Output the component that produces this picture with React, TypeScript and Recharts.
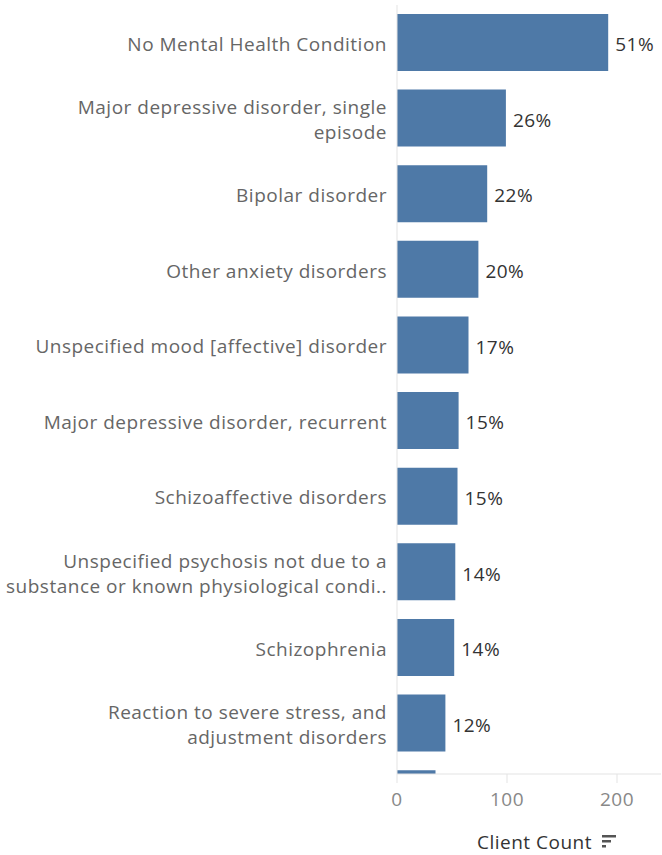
import React from 'react';
import { BarChart, Bar, XAxis, YAxis, LabelList, Label } from 'recharts';

// category labels as shown (Tableau wraps / truncates them)
const categories = [
  'No Mental Health Condition',
  'Major depressive disorder, single\nepisode',
  'Bipolar disorder',
  'Other anxiety disorders',
  'Unspecified mood [affective] disorder',
  'Major depressive disorder, recurrent',
  'Schizoaffective disorders',
  'Unspecified psychosis not due to a\nsubstance or known physiological condi..',
  'Schizophrenia',
  'Reaction to severe stress, and\nadjustment disorders',
  '',
];
const clientCounts = [192, 99, 82, 74, 65, 56, 55, 53, 52, 44, 35];
const pctLabels = ['51%', '26%', '22%', '20%', '17%', '15%', '15%', '14%', '14%', '12%', ''];
const xTicks = [0, 100, 200];
const rowTicks = [0, 1, 2, 3, 4, 5, 6, 7, 8, 9];

const data = clientCounts.map((count, i) => ({
  idx: i,
  name: categories[i],
  count,
  pct: pctLabels[i],
}));

const FONT = '"Open Sans", sans-serif';
const FS = 19;
const LS = 0.5;

function CategoryTick(props: any) {
  const { x, y, payload } = props;
  const lines = (categories[payload.value] ?? '').split('\n');
  const lh = 25;
  const start = -((lines.length - 1) * lh) / 2 + 8;
  return (
    <text x={x} y={y} textAnchor="end" fill="#666" fontSize={FS} letterSpacing={LS} fontFamily={FONT}>
      {lines.map((l, i) => (
        <tspan key={i} x={x} dy={i === 0 ? start : lh}>
          {l}
        </tspan>
      ))}
    </text>
  );
}

function AxisTitle(props: any) {
  const { viewBox } = props;
  const right = viewBox.x + viewBox.width / 2 + 63;
  const y = viewBox.y + 75;
  return (
    <g>
      <text x={right} y={y} textAnchor="end" fill="#333" fontSize={FS} letterSpacing={LS} fontFamily={FONT}>
        Client Count
      </text>
      {/* sort indicator */}
      <rect x={right + 10} y={y - 14} width={14} height={2.5} fill="#555" />
      <rect x={right + 10} y={y - 9} width={9} height={2.5} fill="#555" />
      <rect x={right + 10} y={y - 4} width={4} height={2.5} fill="#555" />
    </g>
  );
}

export default function App() {
  return (
    <div style={{ width: 662, height: 855, background: '#fff' }}>
      <style>{`body{margin:0}`}</style>
      <BarChart
        width={662}
        height={855}
        data={data}
        layout="vertical"
        margin={{ top: 5, right: 1, bottom: 0, left: 0 }}
      >
        <XAxis
          type="number"
          domain={[0, 240]}
          ticks={xTicks}
          allowDataOverflow
          height={81}
          tickSize={9}
          tickMargin={10}
          axisLine={{ stroke: '#e3e3e3' }}
          tickLine={{ stroke: '#e3e3e3' }}
          tick={{ fill: '#888', fontSize: FS, fontFamily: FONT, letterSpacing: LS }}
        >
          <Label content={<AxisTitle />} />
        </XAxis>
        <YAxis
          type="number"
          dataKey="idx"
          domain={[-0.5, 9.67]}
          allowDataOverflow
          ticks={rowTicks}
          interval={0}
          width={397}
          tickLine={false}
          tickSize={0}
          tickMargin={10}
          axisLine={{ stroke: '#e3e3e3' }}
          tick={<CategoryTick />}
        />
        <Bar dataKey="count" fill="#4e79a7" barSize={57} isAnimationActive={false}>
          <LabelList
            dataKey="pct"
            position="right"
            offset={7}
            dy={2}
            fill="#333"
            fontSize={FS}
            fontFamily={FONT}
            letterSpacing={LS}
          />
        </Bar>
      </BarChart>
    </div>
  );
}
